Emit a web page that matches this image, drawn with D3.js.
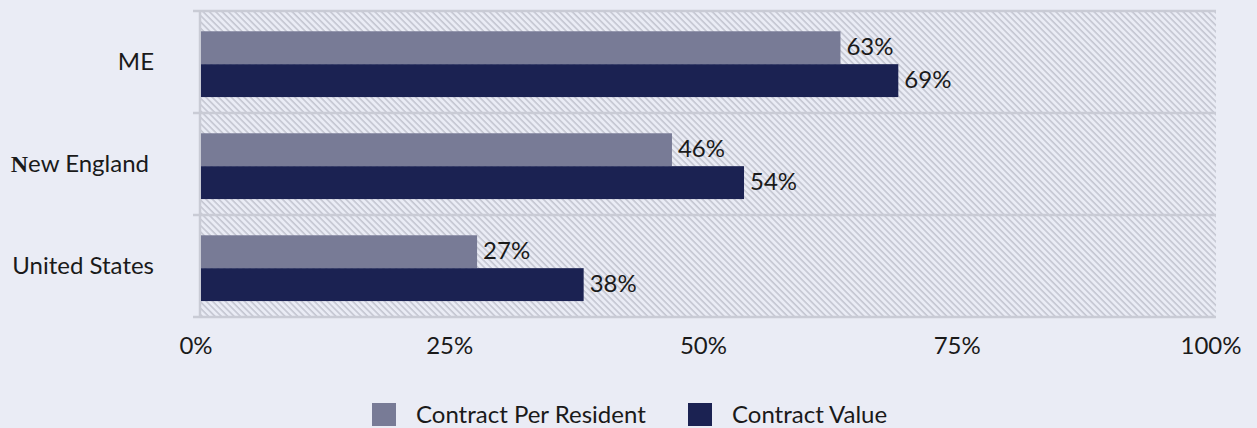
<!DOCTYPE html>
<html>
<head>
<meta charset="utf-8">
<script src="https://cdn.jsdelivr.net/npm/d3@7"></script>
<style>
  body { margin: 0; background: #eaecf5; }
  text { font-family: Lato, sans-serif; font-weight: 400; fill: #1a1a1a; }
</style>
</head>
<body>
<div id="chart-area"></div>
<script>
var categories = ["ME", "New England", "United States"];
var seriesNames = ["Contract Per Resident", "Contract Value"];
var perResident = [0.63, 0.464, 0.272];
var contractValue = [0.687, 0.535, 0.377];
var tickValues = [0, 0.25, 0.5, 0.75, 1];
var colors = ["#787b96", "#1b2252"];

var W = 1257, H = 428;
var margin = { left: 201, right: 41, top: 11, bottom: 111 };
var width = W - margin.left - margin.right;
var height = H - margin.top - margin.bottom;
var fontSize = "24px";

var svg = d3.select("#chart-area")
    .append("svg")
        .attr("width", W)
        .attr("height", H);

// diagonal hatch for the plot background
var pat = svg.append("defs").append("pattern")
    .attr("id", "hatch")
    .attr("patternUnits", "userSpaceOnUse")
    .attr("width", 4.5)
    .attr("height", 4.5)
    .attr("patternTransform", "rotate(-45)");
pat.append("rect").attr("width", 4.5).attr("height", 4.5).attr("fill", "#eaecf5");
pat.append("line")
    .attr("x1", 1).attr("y1", 0).attr("x2", 1).attr("y2", 4.5)
    .attr("stroke", "#c4c6d1").attr("stroke-width", 1.6);

var g = svg.append("g")
    .attr("transform", "translate(" + margin.left + "," + margin.top + ")");

var x = d3.scaleLinear().domain([0, 1]).range([0, width]);
var y0 = d3.scaleBand().domain(categories).range([0, height]);
var y1 = d3.scaleBand().domain(seriesNames).range([0, y0.bandwidth()])
    .paddingOuter(0.55).align(0.56);

g.append("rect")
    .attr("width", width)
    .attr("height", height)
    .attr("fill", "url(#hatch)");

// band separators
var bounds = categories.map(function(c) { return y0(c); }).concat([height]);
g.selectAll(".sep")
    .data(bounds)
    .enter().append("line")
        .attr("class", "sep")
        .attr("x1", -8).attr("x2", width)
        .attr("y1", function(d) { return d; })
        .attr("y2", function(d) { return d; })
        .attr("stroke", "#c9cbd5")
        .attr("stroke-width", 2.5);

g.append("line")
    .attr("x1", -1).attr("x2", -1)
    .attr("y1", 0).attr("y2", height)
    .attr("stroke", "#c9cbd5")
    .attr("stroke-width", 2.5);

var rows = categories.map(function(c, i) {
    return { cat: c, vals: [perResident[i], contractValue[i]] };
});

var grp = g.selectAll(".row")
    .data(rows)
    .enter().append("g")
        .attr("class", "row")
        .attr("transform", function(d) { return "translate(0," + y0(d.cat) + ")"; });

grp.selectAll("rect")
    .data(function(d) { return d.vals.map(function(v, j) { return { s: seriesNames[j], v: v, j: j }; }); })
    .enter().append("rect")
        .attr("x", 0)
        .attr("y", function(d) { return y1(d.s); })
        .attr("width", function(d) { return x(d.v); })
        .attr("height", y1.bandwidth())
        .attr("fill", function(d) { return colors[d.j]; });

grp.selectAll(".val")
    .data(function(d) { return d.vals.map(function(v, j) { return { s: seriesNames[j], v: v }; }); })
    .enter().append("text")
        .attr("class", "val")
        .attr("x", function(d) { return x(d.v) + 6; })
        .attr("y", function(d) { return y1(d.s) + y1.bandwidth() / 2 - 1; })
        .attr("dy", "0.35em")
        .style("font-size", fontSize)
        .text(function(d) { return d3.format(".0%")(d.v); });

// category labels
var cl = g.selectAll(".cat")
    .data(categories)
    .enter().append("text")
        .attr("class", "cat")
        .attr("x", function(d) { return d === "New England" ? -52 : -47; })
        .attr("y", function(d) { return y0(d) + y0.bandwidth() / 2; })
        .attr("dy", "0.35em")
        .attr("text-anchor", "end")
        .style("font-size", fontSize);
cl.each(function(d) {
    var t = d3.select(this);
    if (d === "New England") {
        t.append("tspan")
            .style("font-family", "'Liberation Serif', serif")
            .style("font-weight", "bold")
            .text("N");
        t.append("tspan").text(d.slice(1));
    } else {
        t.text(d);
    }
});

// x axis labels
g.selectAll(".tick-label")
    .data(tickValues)
    .enter().append("text")
        .attr("class", "tick-label")
        .attr("x", function(d) { return x(d) - 5; })
        .attr("y", height + 29)
        .attr("dy", "0.35em")
        .attr("text-anchor", "middle")
        .style("font-size", fontSize)
        .text(function(d) { return d3.format(".0%")(d); });

// legend
var legendX = [372, 688];
var lg = svg.selectAll(".legend")
    .data(seriesNames)
    .enter().append("g")
        .attr("class", "legend")
        .attr("transform", function(d, i) { return "translate(" + legendX[i] + ",403)"; });
lg.append("rect")
    .attr("width", 24).attr("height", 23)
    .attr("fill", function(d, i) { return colors[i]; });
lg.append("text")
    .attr("x", 44)
    .attr("y", 12)
    .attr("dy", "0.35em")
    .style("font-size", fontSize)
    .text(function(d) { return d; });
</script>
</body>
</html>
